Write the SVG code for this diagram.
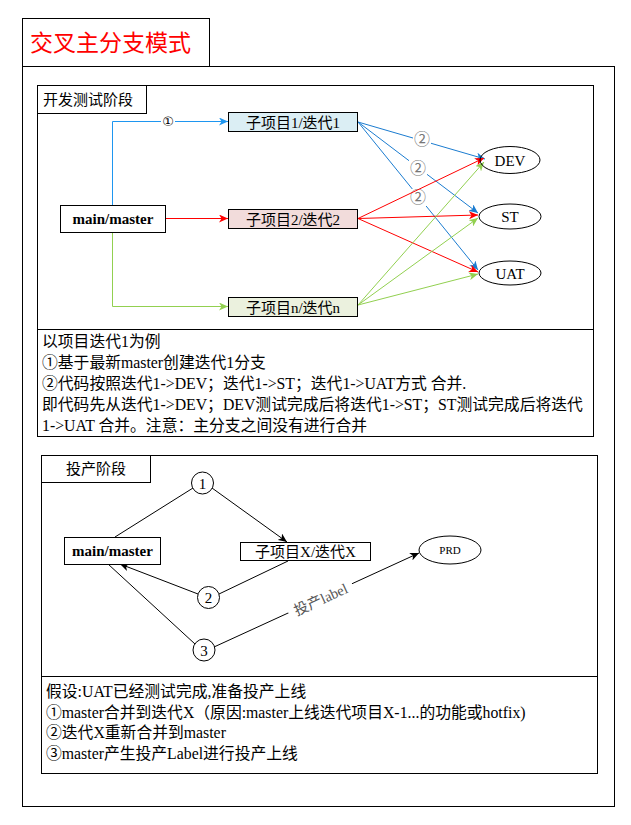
<svg xmlns="http://www.w3.org/2000/svg" width="631" height="825" viewBox="0 0 631 825">
<style>
text{font-family:"Liberation Serif","Noto Sans CJK SC",serif;fill:#000}
.frame{fill:none;stroke:#000;stroke-width:1}
.box{stroke:#000;stroke-width:1}
.t15{font-size:15px}
.body{font-size:15.8px}
.b{font-weight:bold}
.mid{text-anchor:middle}
.e{fill:none;stroke-width:1}
</style>
<defs>
<marker id="aB1" markerWidth="10" markerHeight="8" refX="9" refY="4" orient="auto" markerUnits="userSpaceOnUse"><path d="M0,0 L9,4 L0,8 L2.5,4 z" fill="#1e96f0"/></marker>
<marker id="aB2" markerWidth="10" markerHeight="8" refX="9" refY="4" orient="auto" markerUnits="userSpaceOnUse"><path d="M0,0 L9,4 L0,8 L2.5,4 z" fill="#1b7cd0"/></marker>
<marker id="aR" markerWidth="10" markerHeight="8" refX="9" refY="4" orient="auto" markerUnits="userSpaceOnUse"><path d="M0,0 L9,4 L0,8 L2.5,4 z" fill="#ff0000"/></marker>
<marker id="aG" markerWidth="10" markerHeight="8" refX="9" refY="4" orient="auto" markerUnits="userSpaceOnUse"><path d="M0,0 L9,4 L0,8 L2.5,4 z" fill="#92d050"/></marker>
<marker id="aK" markerWidth="10" markerHeight="8" refX="9" refY="4" orient="auto" markerUnits="userSpaceOnUse"><path d="M0,0 L9,4 L0,8 L2.5,4 z" fill="#000"/></marker>
</defs>
<rect width="631" height="825" fill="#fff"/>

<!-- title and outer frame -->
<g id="title">
<rect class="frame" x="22.5" y="18.5" width="187" height="48"/>
<text x="30" y="51" style="font-size:23px;fill:#ff0000">交叉主分支模式</text>
</g>
<rect class="frame" x="22.5" y="66.5" width="592" height="740"/>

<!-- dev stage frame -->
<g id="dev-stage">
<rect class="frame" x="37.5" y="85.5" width="556" height="351"/>
<rect class="frame" x="37.5" y="85.5" width="109" height="28"/>
<text x="43" y="105" class="t15">开发测试阶段</text>
<line x1="37.5" y1="329.5" x2="593.5" y2="329.5" stroke="#000"/>
<g class="body">
<text x="42" y="347">以项目迭代1为例</text>
<text x="42" y="368">①基于最新master创建迭代1分支</text>
<text x="42" y="389">②代码按照迭代1-&gt;DEV；迭代1-&gt;ST；迭代1-&gt;UAT方式 合并.</text>
<text x="42" y="410">即代码先从迭代1-&gt;DEV；DEV测试完成后将迭代1-&gt;ST；ST测试完成后将迭代</text>
<text x="42" y="431">1-&gt;UAT 合并。注意：主分支之间没有进行合并</text>
</g>
</g>

<!-- connectors dev -->
<g id="connectors-dev">
<polyline class="e" points="112.5,205 112.5,121.5 228,121.5" stroke="#1e96f0" marker-end="url(#aB1)"/>
<line class="e" x1="166" y1="218.5" x2="228" y2="218.5" stroke="#ff0000" marker-end="url(#aR)"/>
<polyline class="e" points="112.5,232 112.5,306.5 228,306.5" stroke="#92d050" marker-end="url(#aG)"/>
<rect x="161" y="114" width="14" height="15" fill="#fff"/>
<text x="168" y="126" class="mid" style="font-size:13px;font-family:'DejaVu Sans',sans-serif">①</text>

<line class="e" x1="358" y1="122" x2="485" y2="159" stroke="#1b7cd0" marker-end="url(#aB2)"/>
<line class="e" x1="358" y1="122" x2="478" y2="213" stroke="#1b7cd0" marker-end="url(#aB2)"/>
<line class="e" x1="358" y1="122" x2="478" y2="270" stroke="#1b7cd0" marker-end="url(#aB2)"/>
<g style="font-size:16px;font-family:'DejaVu Sans',sans-serif">
<rect x="413" y="131" width="18" height="17" fill="#fff"/>
<text x="422" y="145" class="mid" style="fill:#777">②</text>
<rect x="409" y="160" width="18" height="17" fill="#fff"/>
<text x="418" y="174" class="mid" style="fill:#777">②</text>
<rect x="409" y="189" width="18" height="17" fill="#fff"/>
<text x="418" y="203" class="mid" style="fill:#777">②</text>
</g>
<line class="e" x1="358" y1="218.5" x2="484" y2="158" stroke="#ff0000" marker-end="url(#aR)"/>
<line class="e" x1="358" y1="218.5" x2="478" y2="215" stroke="#ff0000" marker-end="url(#aR)"/>
<line class="e" x1="358" y1="218.5" x2="478" y2="272" stroke="#ff0000" marker-end="url(#aR)"/>
<line class="e" x1="358" y1="305" x2="484" y2="162" stroke="#92d050" marker-end="url(#aG)"/>
<line class="e" x1="358" y1="305" x2="478" y2="218" stroke="#92d050" marker-end="url(#aG)"/>
<line class="e" x1="358" y1="305" x2="478" y2="274" stroke="#92d050" marker-end="url(#aG)"/>
</g>

<g id="dev-master">
<rect class="box" x="60.5" y="205.5" width="105" height="27" fill="#fff"/>
<text x="113" y="224" class="t15 b mid">main/master</text>
</g>
<g id="iter1">
<rect class="box" x="228.5" y="112.5" width="129" height="19" fill="#dbeef4"/>
<text x="293" y="127.5" class="t15 mid">子项目1/迭代1</text>
</g>
<g id="iter2">
<rect class="box" x="228.5" y="209.5" width="129" height="19" fill="#f2dcdb"/>
<text x="293" y="224.5" class="t15 mid">子项目2/迭代2</text>
</g>
<g id="itern">
<rect class="box" x="228.5" y="297.5" width="129" height="19" fill="#ebf1de"/>
<text x="293" y="312.5" class="t15 mid">子项目n/迭代n</text>
</g>
<g id="dev">
<ellipse class="box" cx="510" cy="160" rx="30" ry="13.5" fill="none"/>
<text x="510" y="165.5" class="t15 mid">DEV</text>
</g>
<g id="st">
<ellipse class="box" cx="510" cy="216.5" rx="31" ry="12.5" fill="none"/>
<text x="510" y="222" class="t15 mid">ST</text>
</g>
<g id="uat">
<ellipse class="box" cx="510" cy="273" rx="31" ry="12" fill="none"/>
<text x="510" y="278.5" class="t15 mid">UAT</text>
</g>

<!-- production stage -->
<g id="prod-stage">
<rect class="frame" x="41.5" y="455.5" width="556" height="318"/>
<rect class="frame" x="41.5" y="455.5" width="109" height="27"/>
<text x="96" y="474" class="t15 mid">投产阶段</text>
<line x1="41.5" y1="676.5" x2="597.5" y2="676.5" stroke="#000"/>
<g class="body">
<text x="46" y="697">假设:UAT已经测试完成,准备投产上线</text>
<text x="46" y="718">①master合并到迭代X（原因:master上线迭代项目X-1...的功能或hotfix)</text>
<text x="46" y="738">②迭代X重新合并到master</text>
<text x="46" y="759">③master产生投产Label进行投产上线</text>
</g>
</g>

<g id="connectors-prod">
<line class="e" stroke="#000" x1="115" y1="537" x2="193" y2="488"/>
<line class="e" stroke="#000" x1="212" y1="488" x2="287" y2="542" marker-end="url(#aK)"/>
<line class="e" stroke="#000" x1="288" y1="561" x2="219" y2="594"/>
<line class="e" stroke="#000" x1="198" y1="594" x2="120" y2="564" marker-end="url(#aK)"/>
<line class="e" stroke="#000" x1="108" y1="564" x2="195" y2="644"/>
<line class="e" stroke="#000" x1="214" y1="647" x2="419" y2="553" marker-end="url(#aK)"/>
<g transform="translate(321,600) rotate(-24.6)">
<rect x="-35" y="-10" width="70" height="17" fill="#fff"/>
<text x="0" y="4.5" class="mid" style="font-size:14.5px;fill:#555">投产label</text>
</g>
</g>

<g id="prod-master">
<rect class="box" x="64.5" y="537.5" width="96" height="27" fill="#fff"/>
<text x="112.5" y="556" class="t15 b mid">main/master</text>
</g>
<g id="iterX">
<rect class="box" x="240.5" y="542.5" width="130" height="18" fill="#fff"/>
<text x="305.5" y="557" class="t15 mid">子项目X/迭代X</text>
</g>
<g id="prd">
<ellipse class="box" cx="450" cy="550" rx="31" ry="14" fill="#fff"/>
<text x="450" y="554" class="mid" style="font-size:11px">PRD</text>
</g>
<g id="c1">
<circle class="box" cx="202.5" cy="483" r="11" fill="#fff"/>
<text x="202.5" y="489" class="t15 mid">1</text>
</g>
<g id="c2">
<circle class="box" cx="208.5" cy="597.5" r="11" fill="#fff"/>
<text x="208.5" y="603" class="t15 mid">2</text>
</g>
<g id="c3">
<circle class="box" cx="204" cy="650" r="11" fill="#fff"/>
<text x="204" y="655.5" class="t15 mid">3</text>
</g>
</svg>
